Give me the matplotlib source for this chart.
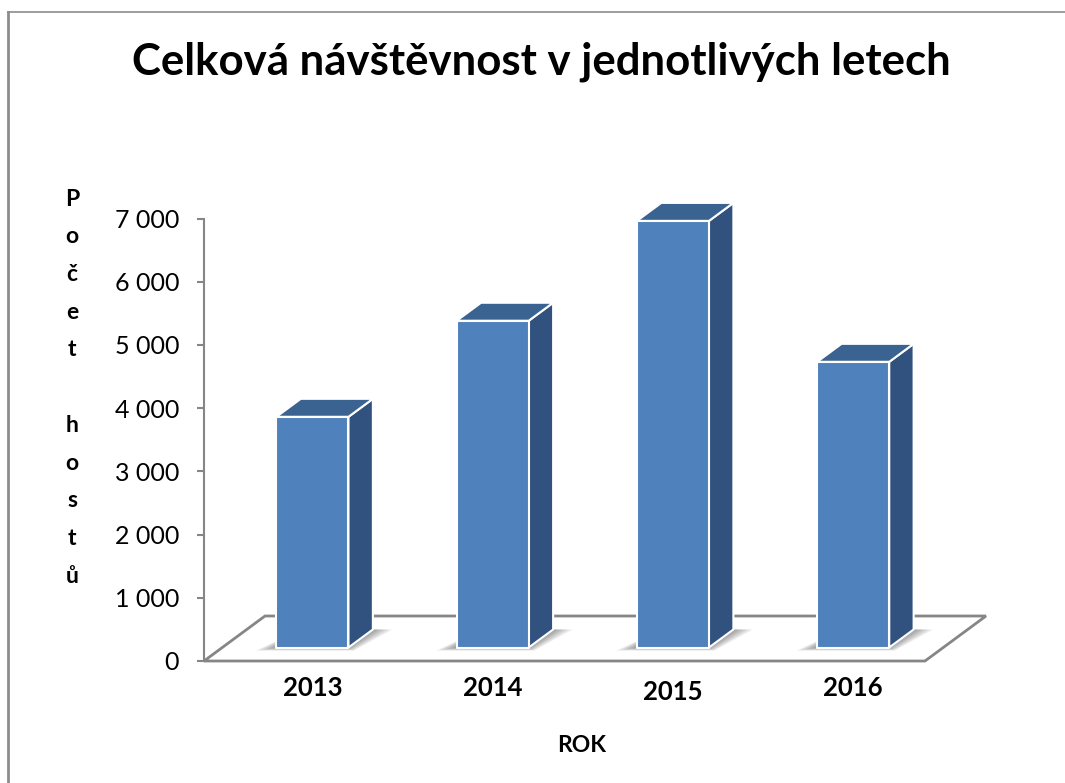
import matplotlib.pyplot as plt
from matplotlib.patches import Polygon
from matplotlib.lines import Line2D
from matplotlib.ticker import FuncFormatter

years = ["2013", "2014", "2015", "2016"]
guests = [3650, 5170, 6750, 4520]
yticks = [0, 1000, 2000, 3000, 4000, 5000, 6000, 7000]

title = "Celková návštěvnost v jednotlivých letech"
ylabel = "Počet hostů"
xlabel = "ROK"

FRONT = "#4f81bd"
SIDE = "#31527f"
TOP = "#3b6391"
AXIS = "#868686"

plt.rcParams["font.family"] = ["Lato", "DejaVu Sans"]

W, H = 1065, 783
x0_px, y0_px = 204, 661          # front-left corner of the floor (pixels)
px_cat, px_unit = 180.25, 0.0632  # pixels per category / per guest
ddx, ddy = 61 / px_cat, 45 / px_unit   # floor depth in data units


def pt(x, d, z):
    # oblique projection: x along categories, d depth (0..1), z value
    return (x + d * ddx, z + d * ddy)


fig = plt.figure(figsize=(W / 100, H / 100), dpi=100)
ax = fig.add_axes([0, 0, 1, 1])
ax.set_xlim(-x0_px / px_cat, (W - x0_px) / px_cat)
ax.set_ylim(-(H - y0_px) / px_unit, y0_px / px_unit)
ax.patch.set_visible(False)

# floor
n = len(years)
floor = [pt(0, 0, 0), pt(n, 0, 0), pt(n, 1, 0), pt(0, 1, 0)]
ax.add_patch(Polygon(floor, closed=True, fill=False, edgecolor=AXIS, lw=2, zorder=1))

# bars
d0, d1 = 0.3, 0.7
for i, h in enumerate(guests):
    xl, xr = i + 0.3, i + 0.7
    # soft shadow on the floor
    for k in range(6):
        s = 0.09 * (1 - k / 6)
        t = 0.07 * (1 - k / 6)
        shadow = [pt(xl - s, d0 - t, 0), pt(xr + s * 0.6, d0 - t, 0),
                  pt(xr + s * 1.2, d1, 0), pt(xl, d1, 0)]
        ax.add_patch(Polygon(shadow, closed=True, facecolor="black", alpha=0.07,
                             lw=0, zorder=2))
    side = [pt(xr, d0, 0), pt(xr, d1, 0), pt(xr, d1, h), pt(xr, d0, h)]
    top = [pt(xl, d0, h), pt(xr, d0, h), pt(xr, d1, h), pt(xl, d1, h)]
    front = [pt(xl, d0, 0), pt(xr, d0, 0), pt(xr, d0, h), pt(xl, d0, h)]
    for poly, c in ((side, SIDE), (top, TOP), (front, FRONT)):
        ax.add_patch(Polygon(poly, closed=True, facecolor=c, edgecolor="white",
                             lw=1.5, joinstyle="round", zorder=3))

# value axis on the front-left corner
for s in ("top", "right", "bottom"):
    ax.spines[s].set_visible(False)
ax.spines["left"].set_position(("data", 0))
ax.spines["left"].set_bounds(0, yticks[-1])
ax.spines["left"].set_color(AXIS)
ax.spines["left"].set_linewidth(1.5)
ax.set_xticks([])
ax.set_yticks(yticks)
ax.yaxis.set_major_formatter(FuncFormatter(lambda v, p: f"{int(v):,}".replace(",", " ")))
ax.tick_params(axis="y", direction="out", length=5, width=1.5, color=AXIS,
               labelsize=18, pad=13, labelcolor="black")

# category labels (2015 sits a little lower in the original)
drop = [0, 0, 4, 0]
for i, (lab, dp) in enumerate(zip(years, drop)):
    x, _ = pt(i + 0.5, 0.3, 0)
    ax.text(x, -(696 + dp - y0_px) / px_unit, lab, ha="center", va="baseline",
            fontsize=18.5, fontweight="bold")

fig.text(582 / W, 1 - 751.7 / H, xlabel, ha="center", va="baseline",
         fontsize=16.5, fontweight="bold")

# stacked y label
for i, ch in enumerate(ylabel):
    fig.text(72 / W, 1 - (205.7 + i * 37.7) / H, ch, ha="center", va="baseline",
             fontsize=16.5, fontweight="bold")

fig.text(541 / W, 1 - 75 / H, title, ha="center", va="baseline",
         fontsize=31.5, fontweight="bold")

# chart area border (only left and top visible in the crop)
fig.add_artist(Line2D([7.5 / W, 7.5 / W], [-0.01, 1 - 11.5 / H], color="#8c8c8c", lw=2))
fig.add_artist(Line2D([7.5 / W, 1.01], [1 - 11.5 / H, 1 - 11.5 / H], color="#8c8c8c", lw=1.2))

fig.savefig("out.png", dpi=100)
